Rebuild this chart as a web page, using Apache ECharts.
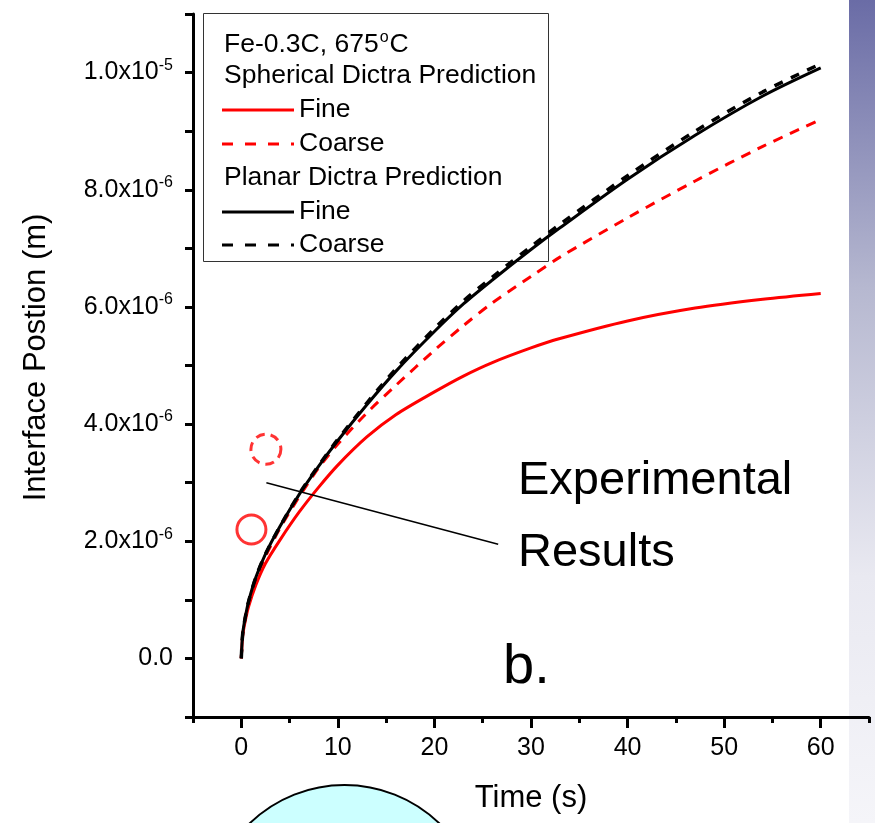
<!DOCTYPE html>
<html>
<head>
<meta charset="utf-8">
<script src="https://cdn.jsdelivr.net/npm/echarts@6/dist/echarts.min.js"></script>
<style>
html,body{margin:0;padding:0;background:#fff;}
#c{width:875px;height:823px;}
</style>
</head>
<body>
<div id="c"></div>
<script>
// time (s)
var timeS = [0, 0.15, 0.4, 0.75, 1.5, 2.5, 4, 6, 8, 10, 13, 16, 20, 23, 26, 30, 33, 40, 47, 54, 60];
// interface position, in units of 1e-6 m
var sphericalFine   = [0, 0.39, 0.63, 0.88, 1.25, 1.62, 2.02, 2.50, 2.92, 3.30, 3.78, 4.16, 4.55, 4.82, 5.05, 5.30, 5.46, 5.76, 5.98, 6.13, 6.23];
var sphericalCoarse = [0, 0.42, 0.68, 0.95, 1.35, 1.74, 2.22, 2.76, 3.25, 3.66, 4.19, 4.66, 5.26, 5.68, 6.07, 6.52, 6.85, 7.52, 8.15, 8.74, 9.20];
var planarFine      = [0, 0.43, 0.69, 0.97, 1.38, 1.78, 2.25, 2.80, 3.28, 3.72, 4.33, 4.90, 5.58, 6.05, 6.46, 6.98, 7.35, 8.18, 8.93, 9.60, 10.08];
var planarCoarse    = [0, 0.43, 0.69, 0.97, 1.38, 1.78, 2.25, 2.81, 3.29, 3.74, 4.36, 4.94, 5.63, 6.10, 6.51, 7.03, 7.41, 8.24, 9.00, 9.67, 10.15];
// experimental results [time, position (1e-6 m)]
var expFine   = [[1.05, 2.20]];
var expCoarse = [[2.55, 3.57]];
// annotation pointer line [time, position]
var pointerLine = [[2.6, 3.0], [26.6, 1.95]];
// axes
var xMin = -5, xMax = 65, xLabelTicks = [0, 10, 20, 30, 40, 50, 60];
var xMinorTicks = [-5, 5, 15, 25, 35, 45, 55, 65];
var yMin = -1, yMax = 11;
var yLabelExp = {2: -6, 4: -6, 6: -6, 8: -6, 10: -5};

function zip(xs, ys){ return xs.map(function(x,i){ return [x, ys[i]]; }); }

var FONT = '"Liberation Sans", Arial, sans-serif';
var chart = echarts.init(document.getElementById('c'), null, {renderer:'canvas'});

function yFmt(v){
  var n = Math.round(v);
  if (Math.abs(v - n) > 1e-6) return '';
  if (n === 0) return '{m|0.0}';
  if (n % 2 !== 0 || n < 0 || n > 10) return '';
  var e = yLabelExp[n];
  var mant = (n === 10) ? '1.0' : (n.toFixed(1));
  return '{m|' + mant + 'x10}{s|' + e + '}';
}

var legendRows = [
  {type:'text', y:45, text:'{a|Fe-0.3C, 675}{s|o}{a|C}'},
  {type:'text', y:76, text:'{a|Spherical Dictra Prediction}'},
  {type:'line', y:110, color:'#ff0000', dash:null, label:'Fine'},
  {type:'line', y:144, color:'#ff0000', dash:[11,12], label:'Coarse'},
  {type:'text', y:178, text:'{a|Planar Dictra Prediction}'},
  {type:'line', y:212, color:'#000000', dash:null, label:'Fine'},
  {type:'line', y:245, color:'#000000', dash:[11,12], label:'Coarse'}
];
var richLegend = {a:{fontSize:26.5, fontFamily:FONT, color:'#000'}, s:{fontSize:16, fontFamily:FONT, color:'#000', verticalAlign:'top', padding:[0,1,14,1]}};
var legendEls = [{
  type:'rect', shape:{x:203.5, y:13.5, width:345, height:248},
  style:{fill:'#fff', stroke:'#333', lineWidth:1}
}];
legendRows.forEach(function(r){
  if (r.type === 'text') {
    legendEls.push({type:'text', x:224, y:r.y, style:{text:r.text, rich:richLegend, verticalAlign:'middle', align:'left'}});
  } else {
    legendEls.push({type:'line', shape:{x1:222, y1:r.y, x2:294, y2:r.y},
      style:{stroke:r.color, lineWidth:3, lineDash:r.dash}});
    legendEls.push({type:'text', x:299, y:r.y, style:{text:r.label, fontSize:26.5, fontFamily:FONT, fill:'#000', verticalAlign:'middle', align:'left'}});
  }
});

var option = {
  animation:false,
  backgroundColor:'#fff',
  grid:{left:193, right:6, top:14, bottom:106, containLabel:false},
  xAxis:[{
    type:'value', min:xMin, max:xMax, interval:5,
    name:'Time (s)', nameLocation:'middle', nameGap:66,
    nameTextStyle:{fontSize:31, fontFamily:FONT, color:'#000'},
    axisLine:{show:true, onZero:false, lineStyle:{color:'#000', width:3}},
    axisTick:{show:true, inside:false, length:11, lineStyle:{color:'#000', width:3}, customValues:xLabelTicks},
    axisLabel:{show:true, margin:19, fontSize:25, fontFamily:FONT, color:'#000', customValues:xLabelTicks},
    splitLine:{show:false}
  },{
    type:'value', min:xMin, max:xMax, interval:5, position:'bottom', offset:0,
    axisLine:{show:false, onZero:false},
    axisTick:{show:true, length:6, lineStyle:{color:'#000', width:3}, customValues:xMinorTicks},
    axisLabel:{show:false},
    splitLine:{show:false}
  }],
  yAxis:{
    type:'value', min:yMin, max:yMax, interval:1,
    name:'Interface Postion (m)', nameLocation:'middle', nameGap:141, nameRotate:90,
    nameTextStyle:{fontSize:31, fontFamily:FONT, color:'#000', padding:[0,0,0,16]},
    axisLine:{show:true, onZero:false, lineStyle:{color:'#000', width:3}},
    axisTick:{show:true, inside:false, length:8, lineStyle:{color:'#000', width:3}},
    axisLabel:{show:true, margin:20, formatter:yFmt,
      rich:{m:{fontSize:25, fontFamily:FONT, color:'#000', lineHeight:30},
            s:{fontSize:16, fontFamily:FONT, color:'#000', verticalAlign:'top', lineHeight:30, padding:[0,0,14,0]}}},
    splitLine:{show:false}
  },
  series:[
    {name:'Planar Coarse', type:'line', data:zip(timeS, planarCoarse), showSymbol:false, smooth:0.3,
     lineStyle:{color:'#000', width:3.5, type:[9,9]}, z:3},
    {name:'Planar Fine', type:'line', data:zip(timeS, planarFine), showSymbol:false, smooth:0.3,
     lineStyle:{color:'#000', width:3}, z:4},
    {name:'Spherical Coarse', type:'line', data:zip(timeS, sphericalCoarse), showSymbol:false, smooth:0.3,
     lineStyle:{color:'#ff0000', width:3, type:[10,8]}, z:2},
    {name:'Spherical Fine', type:'line', data:zip(timeS, sphericalFine), showSymbol:false, smooth:0.3,
     lineStyle:{color:'#ff0000', width:3}, z:2},
    {name:'Experimental Fine', type:'scatter', data:expFine, symbol:'circle', symbolSize:29,
     itemStyle:{color:'rgba(0,0,0,0)', borderColor:'#ff0000', borderWidth:3}, z:5},
    {name:'Experimental Coarse', type:'scatter', data:expCoarse, symbol:'circle', symbolSize:30,
     itemStyle:{color:'rgba(0,0,0,0)', borderColor:'#ff0000', borderWidth:3, borderType:[9,6]}, z:5},
    {name:'pointer', type:'line', data:pointerLine, showSymbol:false, symbol:'none',
     lineStyle:{color:'#000', width:1.5}, z:6}
  ],
  graphic:[
    {type:'rect', z:-10, shape:{x:849, y:0, width:26, height:823},
     style:{fill:new echarts.graphic.LinearGradient(0,0,0,1,[
       {offset:0, color:'#6a6ca6'},{offset:0.35, color:'#b6b8d0'},{offset:0.7, color:'#e9e9f1'},{offset:1, color:'#f5f5f9'}])}},
    {type:'circle', z:-5, shape:{cx:344.5, cy:921.5, r:136.5}, style:{fill:'#ccffff', stroke:'#000', lineWidth:2}},
    {type:'group', z:10, children:legendEls},
    {type:'text', z:10, x:518, y:481, style:{text:'Experimental', fontSize:47, fontFamily:FONT, fill:'#000', verticalAlign:'middle'}},
    {type:'text', z:10, x:518, y:553, style:{text:'Results', fontSize:47, fontFamily:FONT, fill:'#000', verticalAlign:'middle'}},
    {type:'text', z:10, x:503, y:668, style:{text:'b.', fontSize:56, fontFamily:FONT, fill:'#000', verticalAlign:'middle'}}
  ]
};
chart.setOption(option);
</script>
</body>
</html>
